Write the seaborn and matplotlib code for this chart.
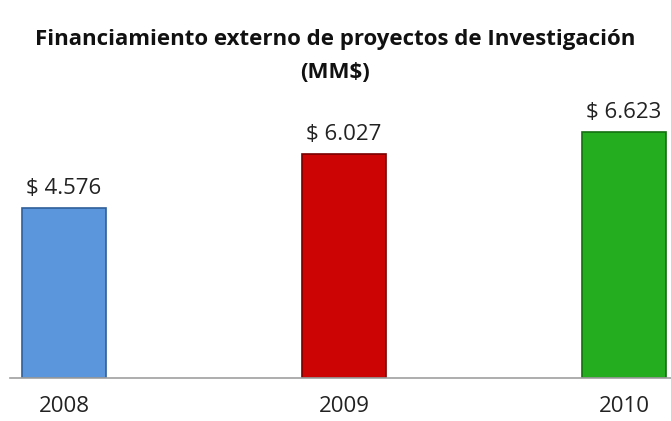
import matplotlib
matplotlib.use("Agg")
import matplotlib.pyplot as plt
import seaborn as sns
import pandas as pd

years = ["2008", "2009", "2010"]
values = [4.576, 6.027, 6.623]
labels = ["$ 4.576", "$ 6.027", "$ 6.623"]
colors = ["#5b96dc", "#cc0404", "#25ad20"]
edges = ["#2f5f9a", "#7a0000", "#137010"]

df = pd.DataFrame({"year": years, "value": values})

sns.set_style("white")
plt.rcParams["font.family"] = ["Open Sans", "DejaVu Sans"]

fig = plt.figure(figsize=(6.71, 4.21), dpi=100)
ax = fig.add_axes([10 / 671, 43 / 421, 661 / 671, 260 / 421])

sns.barplot(data=df, x="year", y="value", hue="year", palette=colors,
            width=0.3, legend=False, ax=ax, saturation=1)
for bar, ec in zip(ax.patches, edges):
    bar.set_edgecolor(ec)
    bar.set_linewidth(1.2)

for i, (v, lab) in enumerate(zip(values, labels)):
    ax.text(i, v + 0.25, lab, ha="center", va="bottom", fontsize=16, color="#222222")

ax.set_xlim(-0.193, 2.168)
ax.set_ylim(0, 7)
ax.set_xlabel("")
ax.set_ylabel("")
ax.set_yticks([])
for s in ["top", "right", "left"]:
    ax.spines[s].set_visible(False)
ax.spines["bottom"].set_color("#a0a0a0")
ax.spines["bottom"].set_linewidth(1.2)
ax.tick_params(axis="x", length=0, pad=13, labelsize=16, colors="#222222")

fig.text(335 / 671, 1 - 40 / 421, "Financiamiento externo de proyectos de Investigación",
         ha="center", va="center", fontsize=16, fontweight="bold", color="#111111")
fig.text(335 / 671, 1 - 72 / 421, "(MM$)",
         ha="center", va="center", fontsize=16, fontweight="bold", color="#111111")

fig.savefig("out.png", dpi=100)
